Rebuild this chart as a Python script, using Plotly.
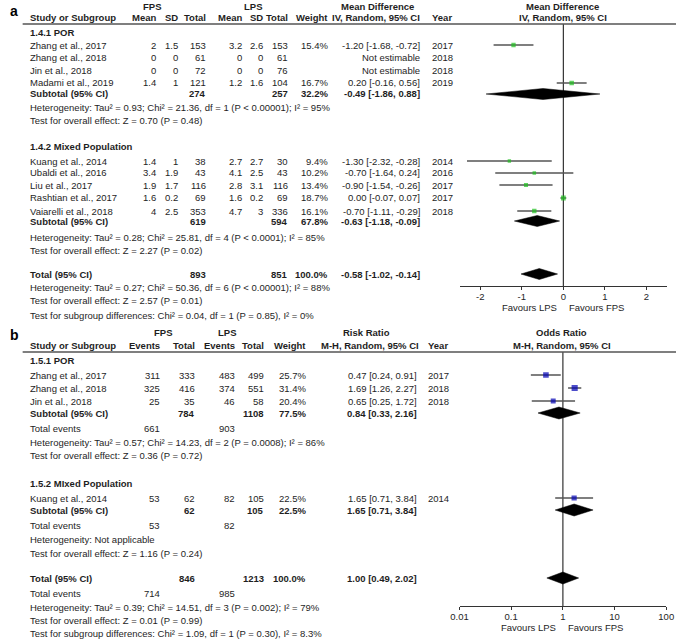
import plotly.graph_objects as go

W, H = 684, 640
FONT = "Liberation Sans, Arial"
TXT = "#1e1e1e"
FS = 9.5

# ---------------- Panel a data ----------------
a_groups = ["1.4.1 POR", "1.4.2 Mixed Population"]
a_studies = ["Zhang et al., 2017", "Zhang et al., 2018", "Jin et al., 2018", "Madami et al., 2019",
             "Kuang et al., 2014", "Ubaldi et al., 2016", "Liu et al., 2017", "Rashtian et al., 2017",
             "Vaiarelli et al., 2018"]
a_fps_mean = [2, 0, 0, 1.4, 1.4, 3.4, 1.9, 1.6, 4]
a_fps_sd = [1.5, 0, 0, 1, 1, 1.9, 1.7, 0.2, 2.5]
a_fps_n = [153, 61, 72, 121, 38, 43, 116, 69, 353]
a_lps_mean = [3.2, 0, 0, 1.2, 2.7, 4.1, 2.8, 1.6, 4.7]
a_lps_sd = [2.6, 0, 0, 1.6, 2.7, 2.5, 3.1, 0.2, 3]
a_lps_n = [153, 61, 76, 104, 30, 43, 116, 69, 336]
a_weight = [15.4, None, None, 16.7, 9.4, 10.2, 13.4, 18.7, 16.1]
a_md = [-1.20, None, None, 0.20, -1.30, -0.70, -0.90, 0.00, -0.70]
a_lo = [-1.68, None, None, -0.16, -2.32, -1.64, -1.54, -0.07, -1.11]
a_hi = [-0.72, None, None, 0.56, -0.28, 0.24, -0.26, 0.07, -0.29]
a_year = [2017, 2018, 2018, 2019, 2014, 2016, 2017, 2017, 2018]

a_sum_labels = ["Subtotal (95% CI)", "Subtotal (95% CI)", "Total (95% CI)"]
a_sum_fps_n = [274, 619, 893]
a_sum_lps_n = [257, 594, 851]
a_sum_weight = [32.2, 67.8, 100.0]
a_sum_md = [-0.49, -0.63, -0.58]
a_sum_lo = [-1.86, -1.18, -1.02]
a_sum_hi = [0.88, -0.09, -0.14]
a_het = ["Heterogeneity: Tau² = 0.93; Chi² = 21.36, df = 1 (P < 0.00001); I² = 95%",
         "Heterogeneity: Tau² = 0.28; Chi² = 25.81, df = 4 (P < 0.0001); I² = 85%",
         "Heterogeneity: Tau² = 0.27; Chi² = 50.36, df = 6 (P < 0.00001); I² = 88%"]
a_eff = ["Test for overall effect: Z = 0.70 (P = 0.48)",
         "Test for overall effect: Z = 2.27 (P = 0.02)",
         "Test for overall effect: Z = 2.57 (P = 0.01)"]
a_subdiff = "Test for subgroup differences: Chi² = 0.04, df = 1 (P = 0.85), I² = 0%"
a_ticks = [-2, -1, 0, 1, 2]
a_ticktext = ["-2", "-1", "0", "1", "2"]

# ---------------- Panel b data ----------------
b_groups = ["1.5.1 POR", "1.5.2 MIxed Population"]
b_studies = ["Zhang et al., 2017", "Zhang et al., 2018", "Jin et al., 2018", "Kuang et al., 2014"]
b_fps_ev = [311, 325, 25, 53]
b_fps_n = [333, 416, 35, 62]
b_lps_ev = [483, 374, 46, 82]
b_lps_n = [499, 551, 58, 105]
b_weight = [25.7, 31.4, 20.4, 22.5]
b_or = [0.47, 1.69, 0.65, 1.65]
b_lo = [0.24, 1.26, 0.25, 0.71]
b_hi = [0.91, 2.27, 1.72, 3.84]
b_year = [2017, 2018, 2018, 2014]

b_sum_labels = ["Subtotal (95% CI)", "Subtotal (95% CI)", "Total (95% CI)"]
b_sum_fps_n = [784, 62, 846]
b_sum_lps_n = [1108, 105, 1213]
b_sum_weight = [77.5, 22.5, 100.0]
b_sum_or = [0.84, 1.65, 1.00]
b_sum_lo = [0.33, 0.71, 0.49]
b_sum_hi = [2.16, 3.84, 2.02]
b_tot_ev_fps = [661, 53, 714]
b_tot_ev_lps = [903, 82, 985]
b_het = ["Heterogeneity: Tau² = 0.57; Chi² = 14.23, df = 2 (P = 0.0008); I² = 86%",
         "Heterogeneity: Not applicable",
         "Heterogeneity: Tau² = 0.39; Chi² = 14.51, df = 3 (P = 0.002); I² = 79%"]
b_eff = ["Test for overall effect: Z = 0.36 (P = 0.72)",
         "Test for overall effect: Z = 1.16 (P = 0.24)",
         "Test for overall effect: Z = 0.01 (P = 0.99)"]
b_subdiff = "Test for subgroup differences: Chi² = 1.09, df = 1 (P = 0.30), I² = 8.3%"
b_ticks = [0.01, 0.1, 1, 10, 100]
b_ticktext = ["0.01", "0.1", "1", "10", "100"]

# ---------------- layout positions (pixels) ----------------
a_group_rows = [32, 146]
a_study_rows = [45, 58, 70, 83, 161, 173, 185, 198, 211]
a_sum_rows = [94, 221, 274]
a_het_rows = [108, 237, 287]
a_eff_rows = [120, 250, 300]
a_subdiff_row = 315
a_top, a_axis = 24, 286

b_group_rows = [360, 483]
b_study_rows = [375, 388, 401, 498]
b_sum_rows = [413, 510, 578]
b_totev_rows = [428, 525, 593]
b_het_rows = [442, 539, 607]
b_eff_rows = [455, 553, 620]
b_subdiff_row = 633
b_top, b_axis = 352, 606

ann = []


def txt(x, y, s, anchor="left", bold=False, size=FS, color=TXT):
    ann.append(dict(x=x / W, y=1 - y / H, xref="paper", yref="paper",
                    text=f"<b>{s}</b>" if bold else s, showarrow=False,
                    xanchor=anchor, yanchor="middle", borderpad=0,
                    font=dict(size=size, color=color, family=FONT)))


def g(v):
    return f"{v:g}"


def ci(e, l, h):
    return f"{e:.2f} [{l:.2f}, {h:.2f}]"


fig = go.Figure()

# ================= Panel a table =================
LX = 21
txt(0, 11, "a", bold=True, size=14, color="#000")
txt(147, 6, "FPS", "center", True)
txt(250, 6, "LPS", "center", True)
txt(LX, 18, "Study or Subgroup", bold=True)
for xr, lab in zip([152, 174, 203, 240, 261, 287, 328],
                   ["Mean", "SD", "Total", "Mean", "SD", "Total", "Weight"]):
    txt(xr, 18, lab, "right", True)
txt(378, 6, "Mean Difference", "center", True)
txt(423, 18, "IV, Random, 95% CI", "right", True)
txt(433, 18, "Year", "left", True)
txt(568, 6, "Mean Difference", "center", True)
txt(568, 18, "IV, Random, 95% CI", "center", True)

for r, lab in zip(a_group_rows, a_groups):
    txt(LX, r, lab, bold=True)
for i, r in enumerate(a_study_rows):
    txt(LX, r, a_studies[i])
    txt(152, r, g(a_fps_mean[i]), "right")
    txt(174, r, g(a_fps_sd[i]), "right")
    txt(203, r, g(a_fps_n[i]), "right")
    txt(240, r, g(a_lps_mean[i]), "right")
    txt(261, r, g(a_lps_sd[i]), "right")
    txt(287, r, g(a_lps_n[i]), "right")
    if a_weight[i] is not None:
        txt(328, r, f"{a_weight[i]:.1f}%", "right")
        txt(423, r, ci(a_md[i], a_lo[i], a_hi[i]), "right")
    else:
        txt(423, r, "Not estimable", "right")
    txt(433, r, str(a_year[i]))
for k in range(3):
    r = a_sum_rows[k]
    txt(LX, r, a_sum_labels[k], bold=True)
    txt(203, r, str(a_sum_fps_n[k]), "right", True)
    txt(287, r, str(a_sum_lps_n[k]), "right", True)
    txt(328, r, f"{a_sum_weight[k]:.1f}%", "right", True)
    txt(423, r, ci(a_sum_md[k], a_sum_lo[k], a_sum_hi[k]), "right", True)
    txt(LX, a_het_rows[k], a_het[k])
    txt(LX, a_eff_rows[k], a_eff[k])
txt(LX, a_subdiff_row, a_subdiff)

# ================= Panel b table =================
txt(0, 335, "b", bold=True, size=14, color="#000")
txt(158, 332, "FPS", "center", True)
txt(224, 332, "LPS", "center", True)
txt(LX, 345, "Study or Subgroup", bold=True)
BC = [156, 192, 233, 263, 306]
for xr, lab in zip(BC, ["Events", "Total", "Events", "Total", "Weight"]):
    txt(xr, 345, lab, "right", True)
txt(367, 332, "Risk Ratio", "center", True)
txt(421, 345, "M-H, Random, 95% CI", "right", True)
txt(429, 345, "Year", "left", True)
txt(567, 332, "Odds Ratio", "center", True)
txt(567, 345, "M-H, Random, 95% CI", "center", True)

for r, lab in zip(b_group_rows, b_groups):
    txt(LX, r, lab, bold=True)
for i, r in enumerate(b_study_rows):
    txt(LX, r, b_studies[i])
    txt(BC[0], r, str(b_fps_ev[i]), "right")
    txt(BC[1], r, str(b_fps_n[i]), "right")
    txt(BC[2], r, str(b_lps_ev[i]), "right")
    txt(BC[3], r, str(b_lps_n[i]), "right")
    txt(BC[4], r, f"{b_weight[i]:.1f}%", "right")
    txt(419, r, ci(b_or[i], b_lo[i], b_hi[i]), "right")
    txt(429, r, str(b_year[i]))
for k in range(3):
    r = b_sum_rows[k]
    txt(LX, r, b_sum_labels[k], bold=True)
    txt(BC[1], r, str(b_sum_fps_n[k]), "right", True)
    txt(BC[3], r, str(b_sum_lps_n[k]), "right", True)
    txt(BC[4], r, f"{b_sum_weight[k]:.1f}%", "right", True)
    txt(419, r, ci(b_sum_or[k], b_sum_lo[k], b_sum_hi[k]), "right", True)
    txt(LX, b_totev_rows[k], "Total events")
    txt(BC[0], b_totev_rows[k], str(b_tot_ev_fps[k]), "right")
    txt(BC[2], b_totev_rows[k], str(b_tot_ev_lps[k]), "right")
    txt(LX, b_het_rows[k], b_het[k])
    txt(LX, b_eff_rows[k], b_eff[k])
txt(LX, b_subdiff_row, b_subdiff)

# Favours labels
txt(563, 307, "Favours LPS", "right")
txt(573, 307, "Favours FPS", "left")
txt(562, 627, "Favours LPS", "right")
txt(572, 627, "Favours FPS", "left")

# ================= Forest plot traces =================
CI_COL = "#555555"


def forest(xs, los, his, rows, weights, color, xa, ya, kscale):
    cx, cy, mx, my, ms = [], [], [], [], []
    for e, l, h, r, w in zip(xs, los, his, rows, weights):
        if e is None:
            continue
        cx += [l, h, None]
        cy += [r, r, None]
        mx.append(e)
        my.append(r)
        ms.append(kscale * w ** 0.5)
    fig.add_trace(go.Scatter(x=cx, y=cy, mode="lines", xaxis=xa, yaxis=ya,
                             line=dict(color=CI_COL, width=1.5), hoverinfo="skip",
                             showlegend=False))
    fig.add_trace(go.Scatter(x=mx, y=my, mode="markers", xaxis=xa, yaxis=ya,
                             marker=dict(symbol="square", size=ms, color=color,
                                         line=dict(width=0)),
                             showlegend=False))


def diamonds(es, los, his, rows, xa, ya, hh=5.5):
    for e, l, h, r in zip(es, los, his, rows):
        fig.add_trace(go.Scatter(x=[l, e, h, e, l], y=[r, r - hh, r, r + hh, r],
                                 mode="lines", fill="toself", fillcolor="black",
                                 line=dict(color="black", width=0.5),
                                 xaxis=xa, yaxis=ya, showlegend=False, hoverinfo="skip"))


forest(a_md, a_lo, a_hi, a_study_rows, [w if w else 0 for w in a_weight],
       "#1fbf1f", "x", "y", 1.1)
diamonds(a_sum_md, a_sum_lo, a_sum_hi, a_sum_rows, "x", "y")
forest(b_or, b_lo, b_hi, b_study_rows, b_weight, "#0000b4", "x2", "y2", 1.1)
diamonds(b_sum_or, b_sum_lo, b_sum_hi, b_sum_rows, "x2", "y2", 6)

shapes = [
    dict(type="line", xref="paper", yref="paper", x0=14 / W, x1=1, y0=1 - a_top / H, y1=1 - a_top / H,
         line=dict(color="#555", width=1.5)),
    dict(type="line", xref="paper", yref="paper", x0=14 / W, x1=1, y0=1 - b_top / H, y1=1 - b_top / H,
         line=dict(color="#555", width=1.5)),
    dict(type="line", xref="x", yref="y", x0=0, x1=0, y0=a_top, y1=a_axis,
         line=dict(color="#333", width=1.2), layer="below"),
    dict(type="line", xref="x2", yref="y2", x0=1, x1=1, y0=b_top, y1=b_axis,
         line=dict(color="#333", width=1.2), layer="below"),
]

axis_common = dict(showline=True, linecolor="#333", linewidth=1.2, ticks="outside", ticklen=3,
                   tickcolor="#333", tickwidth=1.2, showgrid=False, zeroline=False,
                   ticklabelstandoff=-2,
                   tickfont=dict(size=FS, color=TXT, family=FONT), fixedrange=True)

fig.update_layout(
    width=W, height=H, margin=dict(l=0, r=0, t=0, b=0),
    paper_bgcolor="white", plot_bgcolor="rgba(0,0,0,0)",
    showlegend=False, annotations=ann, shapes=shapes,
    xaxis=dict(domain=[462 / W, 675 / W], range=[-2.5, 2.5], tickvals=a_ticks,
               ticktext=a_ticktext, anchor="y", **axis_common),
    yaxis=dict(domain=[1 - a_axis / H, 1 - a_top / H], range=[a_axis, a_top], visible=False,
               fixedrange=True),
    xaxis2=dict(domain=[462 / W, 674 / W], type="log", range=[-2, 2], tickvals=b_ticks,
                ticktext=b_ticktext, anchor="y2", **axis_common),
    yaxis2=dict(domain=[1 - b_axis / H, 1 - b_top / H], range=[b_axis, b_top], visible=False,
                fixedrange=True),
)

fig.write_html("out.html", config={"displayModeBar": False},
               post_script="document.body.style.margin='0px';")
